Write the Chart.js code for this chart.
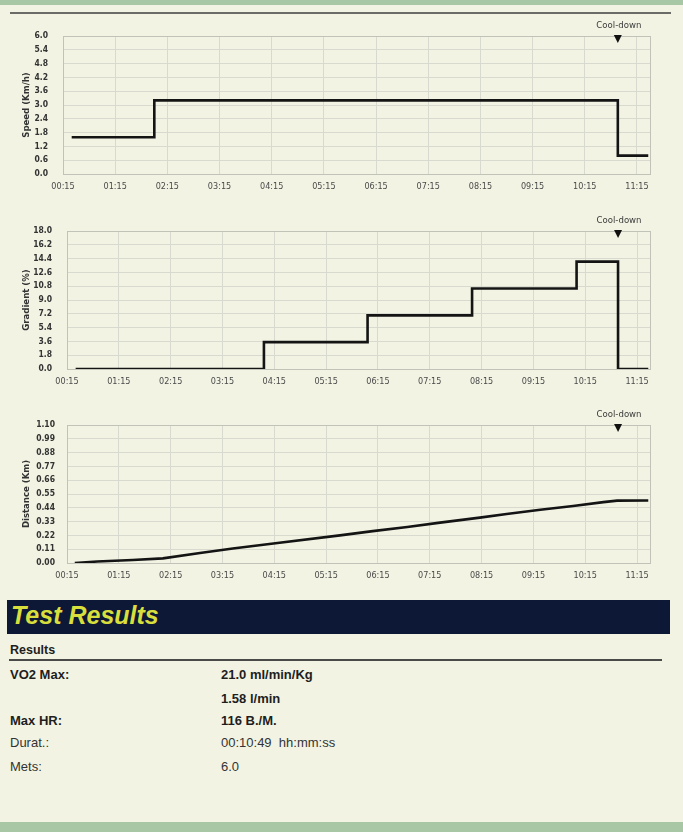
<!DOCTYPE html>
<html>
<head>
<meta charset="utf-8">
<script src="https://cdn.jsdelivr.net/npm/chart.js@4.4.1/dist/chart.umd.min.js"></script>
<style>
  html, body { margin: 0; padding: 0; }
  body { width: 683px; height: 832px; background: #f2f3e3; position: relative; overflow: hidden;
         font-family: "Liberation Sans", Arial, sans-serif; }
  .abs { position: absolute; }
  canvas { position: absolute; left: 0; }
  .band { left: 0; width: 683px; background: #a8c8a5; }
  .row { position: absolute; font-size: 13px; color: #333; line-height: 16px; }
  .b { font-weight: bold; color: #1e1e1e; }
</style>
</head>
<body>
<div class="abs band" style="top:0;height:5px;"></div>
<div class="abs band" style="top:822px;height:10px;"></div>
<div class="abs" style="top:12px;left:10px;width:661px;height:2px;background:#6b6b68;"></div>

<canvas id="c1" width="683" height="185" style="top:15px"></canvas>
<canvas id="c2" width="683" height="185" style="top:210px"></canvas>
<canvas id="c3" width="683" height="185" style="top:404px"></canvas>

<div class="abs" style="top:600px;left:7px;width:663px;height:34px;background:#0d1836;"></div>
<div class="abs" style="top:598px;left:11px;font-size:25px;font-weight:bold;font-style:italic;color:#d8df3c;line-height:34px;">Test Results</div>
<div class="row b" style="top:642px;left:10px;font-size:12.5px;">Results</div>
<div class="abs" style="top:659px;left:9px;width:653px;height:2px;background:#4a4a48;"></div>
<div class="row b" style="top:667px;left:10px;">VO2 Max:</div>
<div class="row b" style="top:667px;left:221px;">21.0 ml/min/Kg</div>
<div class="row b" style="top:691px;left:221px;">1.58 l/min</div>
<div class="row b" style="top:713px;left:10px;">Max HR:</div>
<div class="row b" style="top:713px;left:221px;">116 B./M.</div>
<div class="row" style="top:735px;left:10px;">Durat.:</div>
<div class="row" style="top:735px;left:221px;">00:10:49&nbsp; hh:mm:ss</div>
<div class="row" style="top:759px;left:10px;">Mets:</div>
<div class="row" style="top:759px;left:221px;">6.0</div>

<script>
// ---- data ----
const stageTimeSec = [25, 120, 243, 363, 484, 605, 653, 688];
const speedKmh     = [1.6, 3.2, 3.2, 3.2, 3.2, 3.2, 0.8, 0.8];
const gradientPct  = [0, 0, 3.5, 7.0, 10.5, 14.0, 0, 0];

const distTimeSec = [24, 50, 91, 126, 169, 207, 254, 331, 369, 409, 447, 493, 524, 563, 601, 636, 652, 688];
const distanceKm  = [0.00, 0.012, 0.024, 0.037, 0.08, 0.115, 0.155, 0.22, 0.254, 0.287, 0.322, 0.362, 0.39, 0.425, 0.455, 0.485, 0.497, 0.498];

const coolDownStartSec = 653;

const timeTickValues = [15, 75, 135, 195, 255, 315, 375, 435, 495, 555, 615, 675];
const timeTickLabels = ['00:15','01:15','02:15','03:15','04:15','05:15','06:15','07:15','08:15','09:15','10:15','11:15'];
const speedTicks    = [0, 0.6, 1.2, 1.8, 2.4, 3.0, 3.6, 4.2, 4.8, 5.4, 6.0];
const gradientTicks = [0, 1.8, 3.6, 5.4, 7.2, 9.0, 10.8, 12.6, 14.4, 16.2, 18.0];
const distanceTicks = [0, 0.11, 0.22, 0.33, 0.44, 0.55, 0.66, 0.77, 0.88, 0.99, 1.10];

const xMin = 15, xMax = 690;

// ---- plugins ----
const framePlugin = {
  id: 'frame',
  beforeDatasetsDraw(chart) {
    const a = chart.chartArea, ctx = chart.ctx;
    ctx.save();
    ctx.strokeStyle = '#c2c3b8';
    ctx.lineWidth = 1;
    ctx.strokeRect(Math.round(a.left) + 0.5, Math.round(a.top) + 0.5, Math.round(a.right - a.left), Math.round(a.bottom - a.top));
    ctx.restore();
  }
};
const coolPlugin = {
  id: 'cool',
  afterDraw(chart) {
    const ctx = chart.ctx, a = chart.chartArea;
    const x = chart.scales.x.getPixelForValue(coolDownStartSec);
    ctx.save();
    ctx.fillStyle = '#3a3a3a';
    ctx.font = '9.5px "DejaVu Sans Condensed", "DejaVu Sans", sans-serif';
    ctx.textAlign = 'center';
    ctx.textBaseline = 'middle';
    ctx.fillText('Cool-down', x + 1, a.top - 10);
    ctx.fillStyle = '#111';
    ctx.beginPath();
    ctx.moveTo(x - 4, a.top - 1);
    ctx.lineTo(x + 4, a.top - 1);
    ctx.lineTo(x, a.top + 7);
    ctx.closePath();
    ctx.fill();
    ctx.restore();
  }
};

function makeChart(id, xs, ys, stepped, yTicks, dec, yTitle, yMax, plotLeft, tickPad) {
  const padLeft = 21;
  return new Chart(document.getElementById(id), {
    type: 'line',
    data: {
      datasets: [{
        data: xs.map((x, i) => ({ x: x, y: ys[i] })),
        borderColor: '#141414',
        borderWidth: 2.6,
        pointRadius: 0,
        stepped: stepped,
        tension: 0,
        fill: false
      }]
    },
    options: {
      responsive: false,
      animation: false,
      events: [],
      layout: { padding: { left: padLeft, right: 33, top: 21, bottom: 0 } },
      plugins: { legend: { display: false }, tooltip: { enabled: false } },
      scales: {
        x: {
          type: 'linear', min: xMin, max: xMax,
          afterBuildTicks: s => { s.ticks = timeTickValues.map(v => ({ value: v })); },
          afterFit: s => { s.height = 26; },
          ticks: {
            callback: (v, i) => timeTickLabels[i],
            autoSkip: false, maxRotation: 0, padding: 7,
            color: '#4a4a4a',
            font: { family: '"DejaVu Sans Condensed", "DejaVu Sans", sans-serif', size: 9 }
          },
          grid: { color: '#d9dacf', drawTicks: false },
          border: { color: '#c2c3b8' }
        },
        y: {
          min: 0, max: yMax,
          afterBuildTicks: s => { s.ticks = yTicks.map(v => ({ value: v })); },
          afterFit: s => { s.width = plotLeft - padLeft; },
          ticks: {
            callback: v => Number(v).toFixed(dec),
            padding: tickPad,
            color: '#333',
            font: { family: '"DejaVu Sans Condensed", "DejaVu Sans", sans-serif', size: 8.5, weight: 'bold' }
          },
          title: {
            display: true, text: yTitle, padding: 0, color: '#333',
            font: { family: '"DejaVu Sans Condensed", "DejaVu Sans", sans-serif', size: 9.5, weight: 'bold' }
          },
          grid: { color: '#d9dacf', drawTicks: false },
          border: { color: '#c2c3b8' }
        }
      }
    },
    plugins: [framePlugin, coolPlugin]
  });
}

makeChart('c1', stageTimeSec, speedKmh, 'before', speedTicks, 1, 'Speed (Km/h)', 6.0, 63, 15);
makeChart('c2', stageTimeSec, gradientPct, 'before', gradientTicks, 1, 'Gradient (%)', 18.0, 67, 15);
makeChart('c3', distTimeSec, distanceKm, false, distanceTicks, 2, 'Distance (Km)', 1.10, 67, 12);
</script>
</body>
</html>
